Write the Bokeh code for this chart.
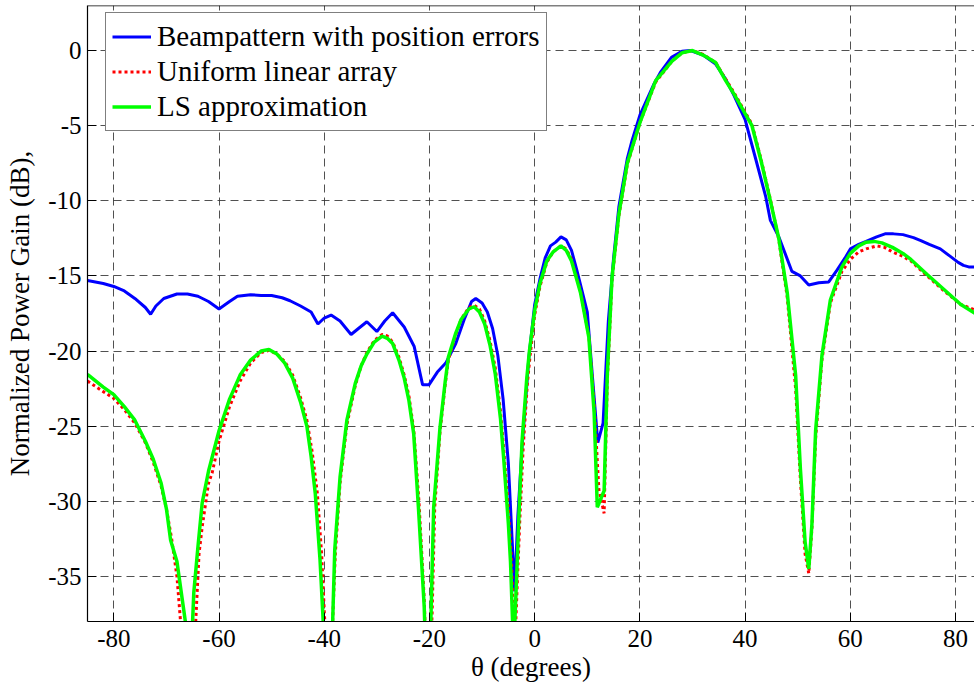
from bokeh.plotting import figure
from bokeh.models import Range1d, FixedTicker, Legend, Span, PrintfTickFormatter
from bokeh.embed import file_html
from bokeh.resources import INLINE

# ---------------- data ----------------
x_ticks = [-80, -60, -40, -20, 0, 20, 40, 60, 80]
y_ticks = [0, -5, -10, -15, -20, -25, -30, -35]

blue_theta = [-85, -82, -80, -78, -76, -74, -73, -72, -70.5, -68, -66, -64, -62, -60, -58, -56.5,
              -54, -52, -50, -48, -46.5, -44.5, -42.5, -41.2, -40, -38.7, -37, -34.9, -33.5,
              -31.9, -30, -28.5, -27, -24.8, -22.9, -21.3, -20.1, -18.5, -16.9, -15, -13.4,
              -12, -11.2, -10, -9, -8, -7, -6, -5, -4.3, -3.8, -3.2, -2.4, -1.1, 0, 1, 2, 3,
              4, 5, 6, 7, 8, 9, 10, 11, 12, 13, 14, 15, 16, 17.6, 18.5, 20, 22.7, 24, 26, 28,
              29.6, 32, 34.4, 36.3, 37.9, 40, 42, 43.9, 44.8, 46.4, 48.9, 50.5, 52.1, 54,
              55.9, 57.5, 59, 60, 61.6, 63, 65, 66.6, 68.2, 70, 72, 73.4, 75, 77.1, 79, 80.5,
              81.5, 82.5, 84]
blue_gain = [-15.3, -15.5, -15.7, -16.0, -16.5, -17.1, -17.55, -17.0, -16.5, -16.2, -16.2, -16.35,
             -16.7, -17.2, -16.7, -16.35, -16.25, -16.3, -16.3, -16.45, -16.65, -17.0, -17.4,
             -18.2, -17.8, -17.6, -18.0, -18.9, -18.5, -18.05, -18.7, -18.0, -17.45, -18.4,
             -19.7, -22.25, -22.25, -21.4, -20.8, -19.5, -17.9, -16.7, -16.5, -16.8, -17.4,
             -18.5, -20.3, -23.2, -27.5, -32.5, -36.0, -31.0, -26.4, -20.4, -16.9, -15.2,
             -13.8, -13.0, -12.75, -12.4, -12.6, -13.3, -14.6, -16.0, -17.4, -21.8, -26.1,
             -24.8, -18.0, -13.8, -10.4, -7.2, -6.0, -4.3, -2.2, -1.4, -0.45, -0.05, 0.0,
             -0.3, -0.9, -1.9, -3.0, -4.6, -7.2, -9.7, -11.3, -12.4, -14.7, -15.0, -15.6,
             -15.45, -15.4, -14.6, -13.8, -13.2, -12.9, -12.7, -12.4, -12.2, -12.2, -12.25,
             -12.45, -12.65, -12.9, -13.2, -13.7, -14.1, -14.3, -14.4, -14.4]

ula_theta = [-85, -82, -80, -78, -76, -74, -72.5, -71, -70, -69, -68, -67.2, -66, -64.5, -63.8,
             -63.2, -62, -61.3, -60, -58, -56, -54, -52, -50.5, -49, -47.5, -46, -44.5, -43.3,
             -42.3, -41.3, -40.5, -39.9, -39, -38.4, -37.9, -37, -35.7, -34.1, -33, -31.9,
             -30.5, -29, -28, -27, -25.8, -24.8, -23.9, -23, -22, -21, -20.2, -19.5, -19, -18,
             -17, -16.4, -15, -14, -12.5, -11.5, -10.5, -9.5, -8.5, -7.5, -6.5, -5.9, -5,
             -4.4, -3.8, -3.2, -2.8, -2.2, -1.4, -0.9, 0, 1, 2.3, 3.5, 5, 6, 7, 8.7, 10.3,
             11.3, 12.2, 13.2, 13.8, 14.7, 16, 17.6, 20, 23, 26.1, 28, 30, 32, 34.4, 36.3,
             37.9, 40, 41.3, 43, 44.8, 46.4, 48, 49.6, 50.5, 51.4, 52.1, 52.7, 53.4, 54.6,
             56.2, 58.4, 60, 61.6, 63, 65, 66.5, 68, 70, 71.5, 74.6, 77.8, 81, 84]
ula_gain = [-22.0, -22.7, -23.15, -23.9, -24.8, -26.1, -27.4, -29.0, -30.5, -32.5, -35.0, -38.5,
            -44.0, -38.5, -33.5, -31.7, -28.8, -28.1, -26.0, -23.7, -22.0, -20.8, -20.1,
            -19.95, -20.2, -20.7, -21.6, -23.1, -24.6, -26.7, -29.5, -33.5, -38.0, -45.0,
            -38.0, -33.5, -28.8, -24.9, -22.3, -21.0, -20.1, -19.3, -18.9, -19.0, -19.4,
            -20.4, -21.6, -23.0, -25.2, -30.0, -36.5, -45.0, -37.5, -30.4, -25.4, -22.2,
            -20.6, -18.9, -17.9, -17.1, -16.95, -17.2, -18.0, -19.3, -21.1, -24.0, -26.5,
            -30.5, -34.0, -40.0, -34.5, -31.0, -26.5, -22.2, -20.4, -17.6, -15.7, -14.1,
            -13.4, -13.0, -13.2, -13.9, -16.0, -19.0, -23.5, -29.2, -30.8, -22.0, -15.3,
            -11.0, -7.6, -4.8, -2.1, -0.7, -0.15, 0.0, -0.25, -0.8, -1.9, -2.8, -4.1, -4.9,
            -7.2, -9.9, -12.6, -16.4, -22.5, -28.5, -33.5, -34.8, -31.8, -25.8, -20.6,
            -16.8, -14.7, -13.9, -13.4, -13.2, -13.0, -13.1, -13.4, -13.7, -14.0, -15.0,
            -16.0, -16.9, -17.3]

ls_theta = [-85, -82, -80, -78, -76, -74, -72.5, -71, -70, -69.2, -68, -67, -66.2, -65.5, -64.8,
            -64, -63.2, -62, -60, -58, -56, -54, -52, -50.5, -49, -47.5, -46, -44.5, -43.3,
            -42.5, -41.7, -40.8, -40.2, -39.3, -38.4, -38, -37, -35.7, -34.1, -33, -31.9,
            -30.5, -29, -28, -27, -25.8, -24.8, -23.9, -23, -22.1, -21, -20.3, -19.7, -19.2,
            -18, -17, -16.4, -15, -14, -12.5, -11.5, -10.5, -9.5, -8.5, -7.5, -6.5, -5.9, -5,
            -4.6, -4, -3.4, -3, -2.4, -1.5, -1, 0, 1, 2.3, 3.5, 5, 6, 7, 8.7, 10.3, 11.3,
            11.9, 13.2, 13.8, 14.7, 16, 17.6, 20, 23, 26.1, 28, 30, 32, 34.4, 36.3, 37.9, 40,
            41.3, 43, 44.8, 46.4, 48, 49.6, 50.5, 51.4, 52.1, 52.7, 53.4, 54.6, 56.2, 58.4,
            60, 61.6, 63, 64.5, 66, 68, 70, 71.5, 74.6, 77.8, 81, 84]
ls_gain = [-21.55, -22.4, -22.9, -23.7, -24.6, -26.0, -27.2, -28.8, -30.5, -32.6, -34.0, -36.5,
           -38.5, -42.0, -36.1, -33.0, -30.1, -28.0, -25.3, -23.2, -21.6, -20.6, -20.0, -19.9,
           -20.2, -20.8, -21.8, -23.4, -25.0, -27.0, -29.5, -33.9, -38.0, -45.0, -38.0, -33.2,
           -28.4, -24.6, -22.15, -21.0, -20.2, -19.4, -19.0, -19.15, -19.5, -20.6, -21.8,
           -23.3, -25.5, -30.4, -37.0, -45.0, -37.5, -30.4, -25.1, -22.0, -20.4, -18.8,
           -17.9, -17.2, -17.05, -17.4, -18.2, -19.6, -21.5, -24.5, -27.1, -31.5, -34.0,
           -40.0, -34.8, -31.0, -26.0, -21.8, -20.0, -17.3, -15.5, -14.0, -13.4, -13.0,
           -13.3, -14.0, -16.1, -19.1, -24.1, -30.4, -29.3, -21.6, -15.1, -10.9, -7.5, -4.8,
           -2.0, -0.7, -0.15, 0.0, -0.3, -0.8, -2.0, -2.9, -4.2, -5.0, -7.3, -10.0, -12.5,
           -16.1, -21.6, -27.8, -32.7, -34.5, -31.5, -25.3, -20.3, -16.6, -14.4, -13.5,
           -13.0, -12.75, -12.7, -12.8, -13.1, -13.5, -13.9, -14.9, -15.9, -16.9, -17.55]

labels = ["Beampattern with position errors", "Uniform linear array", "LS approximation"]

# ---------------- figure ----------------
FONT = "'Times New Roman', 'Liberation Serif', Times, 'DejaVu Serif', serif"

p = figure(width=974, height=689, output_backend="svg", toolbar_location=None,
           x_range=Range1d(-85, 83.6), y_range=Range1d(-38, 3),
           min_border_left=87, min_border_right=0, min_border_top=5, min_border_bottom=68)
p.outline_line_color = None
p.background_fill_color = "white"
p.border_fill_color = "white"

r1 = p.line(blue_theta, blue_gain, line_color="#0000FF", line_width=3)
r2 = p.line(ula_theta, ula_gain, line_color="#FF0000", line_width=3, line_dash="3 3")
r3 = p.line(ls_theta, ls_gain, line_color="#00FF00", line_width=3.5)

for ax in (p.xaxis[0], p.yaxis[0]):
    ax.major_tick_in = 9
    ax.major_tick_out = 0
    ax.minor_tick_line_color = None
    ax.axis_line_color = "black"
    ax.axis_line_width = 1.2
    ax.major_tick_line_color = "black"
    ax.major_label_text_font = FONT
    ax.major_label_text_font_size = "25px"
    ax.major_label_text_color = "black"
    ax.axis_label_text_font = FONT
    ax.axis_label_text_font_size = "27px"
    ax.axis_label_text_font_style = "normal"
    ax.axis_label_text_color = "black"
    ax.formatter = PrintfTickFormatter(format="%d")

p.xaxis[0].ticker = FixedTicker(ticks=x_ticks)
p.yaxis[0].ticker = FixedTicker(ticks=y_ticks)
p.xaxis[0].axis_label = "θ (degrees)"
p.yaxis[0].axis_label = "Normalized Power Gain (dB),"
p.xaxis[0].major_label_standoff = 8
p.xaxis[0].axis_label_standoff = 2
p.yaxis[0].major_label_standoff = 6
p.yaxis[0].axis_label_standoff = 10

# top border of the axes box
p.add_layout(Span(location=3, dimension="width", line_color="black", line_width=1.5))

for g in (p.xgrid[0], p.ygrid[0]):
    g.grid_line_color = "#333333"
    g.grid_line_dash = "8 5"
    g.grid_line_width = 1
    g.grid_line_alpha = 0.85
p.xgrid[0].ticker = FixedTicker(ticks=x_ticks)
p.ygrid[0].ticker = FixedTicker(ticks=y_ticks)

legend = Legend(items=[(labels[0], [r1]), (labels[1], [r2]), (labels[2], [r3])],
                location=(18, 490))
legend.label_text_font = FONT
legend.label_text_font_size = "29px"
legend.label_text_color = "black"
legend.glyph_width = 39
legend.glyph_height = 35
legend.label_height = 35
legend.label_standoff = 6
legend.spacing = 0
legend.padding = 6
legend.margin = 0
legend.border_line_color = "black"
legend.border_line_width = 1.5
legend.background_fill_alpha = 1
p.add_layout(legend, "center")

open("out.html", "w").write(file_html(p, INLINE))
